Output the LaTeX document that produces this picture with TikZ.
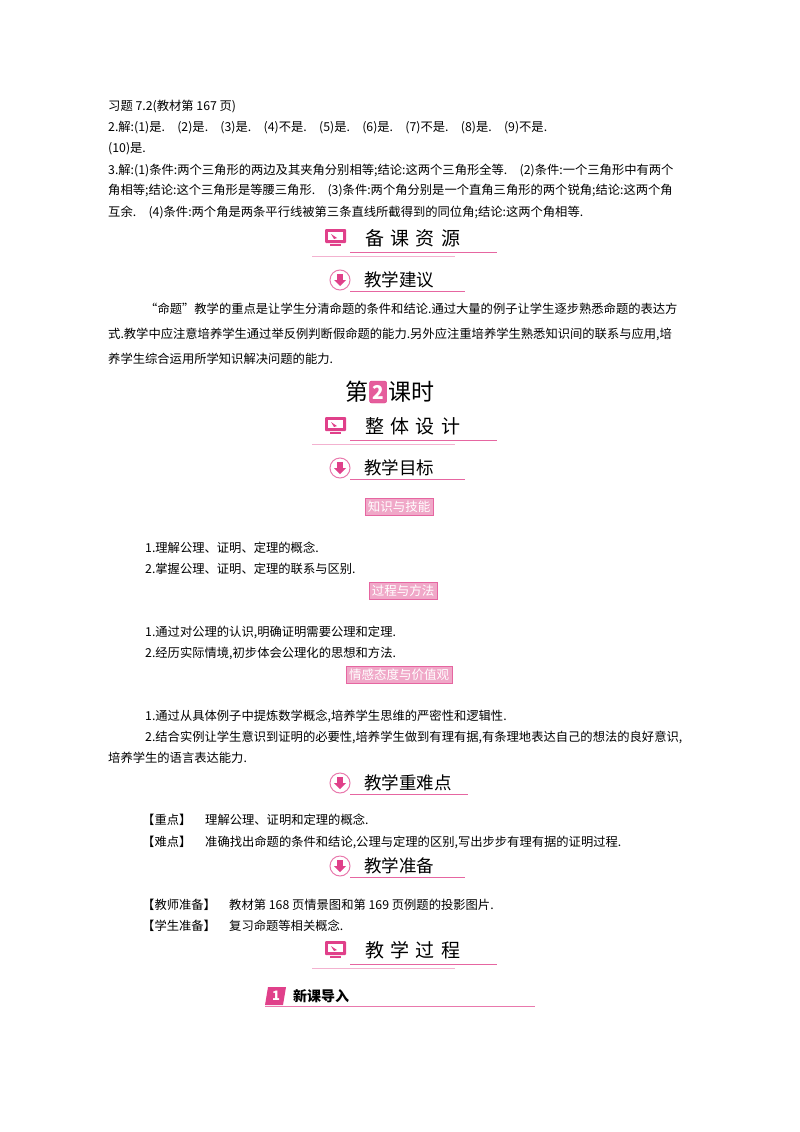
\documentclass[tikz,border=0pt]{standalone}
\usepackage{fontspec}
\setmainfont{Noto Sans CJK SC}
\definecolor{pk}{HTML}{E0408A}
\definecolor{lpk}{HTML}{F0A8C8}
\begin{document}
\begin{tikzpicture}[x=1pt,y=-1pt,
  tx/.style={anchor=west,inner sep=0,font=\fontsize{12.3}{14}\selectfont},
  hd/.style={anchor=west,inner sep=0,font=\fontsize{19}{22}\selectfont},
  tag/.style={draw=pk!80,fill=lpk,text=white,inner xsep=3pt,inner ysep=1.5pt,minimum height=17,font=\fontsize{12.5}{14}\selectfont}]
\useasboundingbox (0,0) rectangle (800,1132);
\fill[white] (0,0) rectangle (800,1132);
\newcommand\monhd[3]{% y, name, text
  \fill[pk,rounded corners=1pt] (325,#1-9) rectangle (346,#1+5);
  \fill[white] (328,#1-6) rectangle (343,#1+2);
  \fill[pk] (331,#1-4) -- (337,#1) -- (334,#1+1) -- cycle;
  \fill[pk] (330,#1+6) rectangle (341,#1+8);
  \node[hd] (#2) at (365,#1) {#3};
  \draw[pk!80,line width=0.8] (350,#1+14) -- (497,#1+14);
  \draw[pk!40,line width=0.8] (312,#1+18) -- (455,#1+18);}
\newcommand\arrhd[4]{% y, name, text, end
  \draw[pk!70,fill=white,line width=1] (340,#1) circle (10);
  \fill[pk] (337,#1-6) rectangle (343,#1);
  \fill[pk] (334,#1) -- (346,#1) -- (340,#1+6) -- cycle;
  \node[hd,font=\fontsize{17.5}{20}\selectfont] (#2) at (364,#1) {#3};
  \draw[pk!80,line width=0.8] (350,#1+11) -- (#4,#1+11);}
\node[tx] (t1) at (108,107) {习题 7.2(教材第 167 页)};
\node[tx] (t2) at (108,128) {2.解:(1)是.\quad(2)是.\quad(3)是.\quad(4)不是.\quad(5)是.\quad(6)是.\quad(7)不是.\quad(8)是.\quad(9)不是.};
\node[tx] (t3) at (108,149) {(10)是.};
\node[tx] (t4) at (108,170) {3.解:(1)条件:两个三角形的两边及其夹角分别相等;结论:这两个三角形全等.\quad (2)条件:一个三角形中有两个};
\node[tx] (t5) at (108,191) {角相等;结论:这个三角形是等腰三角形.\quad (3)条件:两个角分别是一个直角三角形的两个锐角;结论:这两个角};
\node[tx] (t6) at (108,212) {互余.\quad (4)条件:两个角是两条平行线被第三条直线所截得到的同位角;结论:这两个角相等.};
\monhd{238}{h1}{备\,\,课\,\,资\,\,源}
\arrhd{280}{h2}{教学建议}{465}
\node[tx] (p1) at (145,309) {“命题”教学的重点是让学生分清命题的条件和结论.通过大量的例子让学生逐步熟悉命题的表达方};
\node[tx] (p2) at (108,334) {式.教学中应注意培养学生通过举反例判断假命题的能力.另外应注重培养学生熟悉知识间的联系与应用,培};
\node[tx] (p3) at (108,359) {养学生综合运用所学知识解决问题的能力.};
\node[anchor=west,inner sep=0,font=\fontsize{23}{26}\selectfont] (k1) at (345,392) {第};
\node[draw=pk,fill=pk!85,text=white,rounded corners=2pt,inner sep=1pt,minimum width=17,minimum height=22,font=\bfseries\fontsize{19}{21}\selectfont,anchor=west] (k2) at ([xshift=1pt]k1.east) {2};
\node[anchor=west,inner sep=0,font=\fontsize{23}{26}\selectfont] (k3) at ([xshift=1pt]k2.east) {课时};
\monhd{426}{h3}{整\,\,体\,\,设\,\,计}
\arrhd{468}{h4}{教学目标}{465}
\node[tag] (g1) at (399,507) {知识与技能};
\node[tx] (a1) at (145,548) {1.理解公理、证明、定理的概念.};
\node[tx] (a2) at (145,569) {2.掌握公理、证明、定理的联系与区别.};
\node[tag] (g2) at (403,591) {过程与方法};
\node[tx] (b1) at (145,632) {1.通过对公理的认识,明确证明需要公理和定理.};
\node[tx] (b2) at (145,653) {2.经历实际情境,初步体会公理化的思想和方法.};
\node[tag] (g3) at (399,675) {情感态度与价值观};
\node[tx] (c1) at (145,716) {1.通过从具体例子中提炼数学概念,培养学生思维的严密性和逻辑性.};
\node[tx] (c2) at (145,737) {2.结合实例让学生意识到证明的必要性,培养学生做到有理有据,有条理地表达自己的想法的良好意识,};
\node[tx] (c3) at (108,758) {培养学生的语言表达能力.};
\arrhd{783}{h5}{教学重难点}{468}
\node[tx] (d1) at (142,820) {【重点】};
\node[tx] (d2) at (205,820) {理解公理、证明和定理的概念.};
\node[tx] (d3) at (142,842) {【难点】};
\node[tx] (d4) at (205,842) {准确找出命题的条件和结论,公理与定理的区别,写出步步有理有据的证明过程.};
\arrhd{866}{h6}{教学准备}{465}
\node[tx] (e1) at (142,905) {【教师准备】};
\node[tx] (e2) at (229,905) {教材第 168 页情景图和第 169 页例题的投影图片.};
\node[tx] (e3) at (142,926) {【学生准备】};
\node[tx] (e4) at (229,926) {复习命题等相关概念.};
\monhd{950}{h7}{教\,\,学\,\,过\,\,程}
\fill[pk] (268,987) -- (286,987) -- (283,1005) -- (265,1005) -- cycle;
\node[text=white,font=\bfseries\itshape\fontsize{13}{14}\selectfont,inner sep=0] (n1) at (276,996) {1};
\node[anchor=west,inner sep=0,font=\bfseries\fontsize{14}{16}\selectfont] (n2) at (293,996) {新课导入};
\draw[pk!70,line width=0.8] (265,1006) -- (535,1006);
\end{tikzpicture}
\end{document}
